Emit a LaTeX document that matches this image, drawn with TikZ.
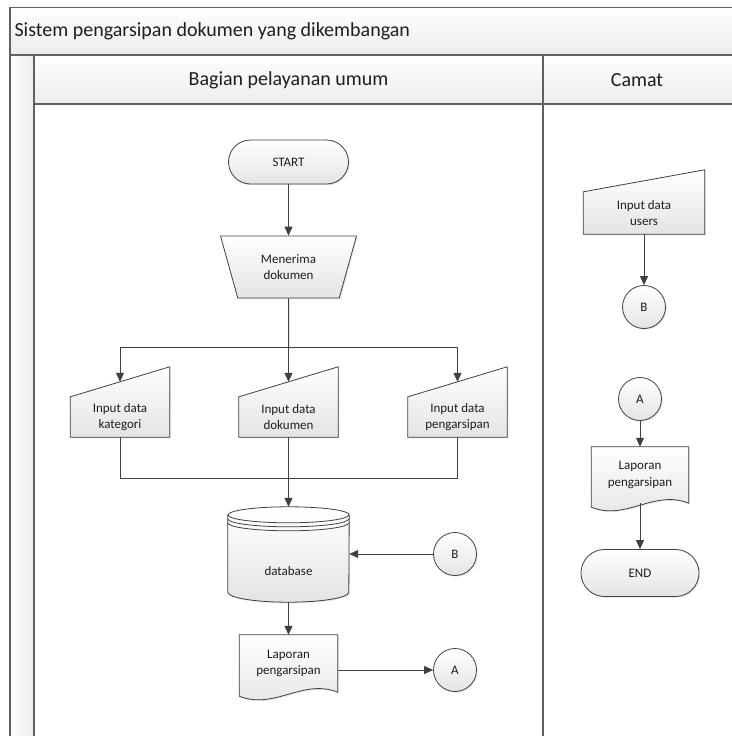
\documentclass[tikz,border=0pt]{standalone}
\usepackage{fontspec}
\setmainfont{Carlito}
\usetikzlibrary{arrows.meta,positioning,calc,shapes.geometric,shadows,backgrounds}
\definecolor{lineGray}{RGB}{64,64,64}
\definecolor{frameGray}{RGB}{96,96,96}
\definecolor{paneGray}{RGB}{236,236,236}
\definecolor{fillLow}{RGB}{228,228,228}
\definecolor{txtGray}{RGB}{30,30,30}

\begin{document}
\begin{tikzpicture}[x=1pt, y=-1pt, text=txtGray,
    font=\fontsize{13}{16.5}\selectfont,
    flow/.style={draw=lineGray, line width=1pt, -{Triangle[length=9pt,width=8pt]}},
    link/.style={draw=lineGray, line width=1pt},
    frameline/.style={draw=frameGray, line width=1.6pt},
    shaded/.style={top color=white, bottom color=fillLow, draw=lineGray, line width=0.8pt,
      drop shadow={opacity=.2, shadow xshift=1.2pt, shadow yshift=-1.2pt}},
    lanetext/.style={font=\fontsize{20}{24}\selectfont},
    term/.style={shaded, rectangle, rounded corners=22pt, minimum width=120pt, minimum height=44pt},
    conn/.style={shaded, circle, minimum size=43pt, inner sep=0pt},
    manop/.style={shaded, trapezium, shape border rotate=180, trapezium stretches=true,
      trapezium angle=72, minimum width=136pt, minimum height=62pt, align=center},
    inbox/.style={minimum width=99pt, minimum height=40pt, inner sep=0pt, align=center},
    docbox/.style={minimum width=98pt, minimum height=57pt, inner sep=0pt, align=center},
  ]
  \useasboundingbox (0,0) rectangle (731,736);
  \clip (0,0) rectangle (731,736);
  % pool: title bar, left strip, lane headers
  \begin{scope}[on background layer]
    \path[frameline, top color=white, bottom color=paneGray] (10,7.5) rectangle (745,55);
    \path[frameline, left color=white, right color=paneGray] (10,55) rectangle (34,750);
    \path[frameline, top color=white, bottom color=paneGray] (34,55) rectangle (745,104);
    \draw[frameline] (34,104) rectangle (745,750);
    \draw[frameline] (543,55) -- (543,750);
  \end{scope}
  \node[lanetext, anchor=west] (pool) at (11,31) {Sistem pengarsipan dokumen yang dikembangan};
  \node[lanetext] (laneumum) at (288.5,80) {Bagian pelayanan umum};
  \node[lanetext] (lanecamat) at (637,80) {Camat};

  % Bagian pelayanan umum
  \node[term] (start) at (288.5,162) {START};
  \node[manop] (terima) at (288.5,267) {Menerima\\dokumen};
  \node[inbox] (ikat) at (120,417) {Input data\\kategori};
  \node[inbox] (idok) at (288.5,417) {Input data\\dokumen};
  \node[inbox] (iarsip) at (457.5,417) {Input data\\pengarsipan};
  \node[minimum width=121pt, minimum height=95pt, inner sep=0pt,
    label={[yshift=-17pt]center:database}] (db) at (288.5,554.5) {};
  \node[conn] (cb1) at (455,554) {B};
  \node[docbox] (lapkiri) at (288.5,663.5) {Laporan\\pengarsipan};
  \node[conn] (ca1) at (455,670) {A};

  % Camat
  \node[inbox, minimum width=121pt, minimum height=42pt] (users) at (644,213) {Input data\\users};
  \node[conn] (cb2) at (644,307) {B};
  \node[conn] (ca2) at (640,399) {A};
  \node[docbox, minimum width=97pt, minimum height=56pt] (lapkanan) at (640,475) {Laporan\\pengarsipan};
  \node[term, minimum width=118pt, minimum height=47pt, rounded corners=23.5pt] (end) at (640,573) {END};

  % outlines of manual inputs, documents and the database
  \begin{scope}[on background layer]
    \path[shaded] (ikat.south west) -- (ikat.south east) -- ($(ikat.north east)+(0,-30)$) -- (ikat.north west) -- cycle;
    \path[shaded] (idok.south west) -- (idok.south east) -- ($(idok.north east)+(0,-30)$) -- (idok.north west) -- cycle;
    \path[shaded] (iarsip.south west) -- (iarsip.south east) -- ($(iarsip.north east)+(0,-30)$) -- (iarsip.north west) -- cycle;
    \path[shaded] (users.south west) -- (users.south east) -- ($(users.north east)+(0,-22)$) -- (users.north west) -- cycle;
    \path[shaded] (lapkiri.north west) -- (lapkiri.north east) -- (lapkiri.south east)
      .. controls +(-35,-14) and +(35,14) .. ($(lapkiri.south west)+(0,4)$) -- cycle;
    \path[shaded] (lapkanan.north west) -- (lapkanan.north east) -- (lapkanan.south east)
      .. controls +(-35,-14) and +(35,14) .. ($(lapkanan.south west)+(0,4)$) -- cycle;
    \path[shaded] ($(db.north west)+(0,8)$) -- ($(db.south west)+(0,-10)$)
      arc[start angle=180, end angle=360, x radius=60.5pt, y radius=10pt]
      -- ($(db.north east)+(0,8)$)
      arc[start angle=0, end angle=180, x radius=60.5pt, y radius=8pt] -- cycle;
    \foreach \dy in {8,12,16}
      \draw[lineGray, line width=0.8pt] ($(db.north west)+(0,\dy)$)
        arc[start angle=180, end angle=360, x radius=60.5pt, y radius=8pt];
  \end{scope}

  % connectors
  \coordinate (split) at (288.5,347);
  \coordinate (merge) at (288.5,478);
  \coordinate (ikat-in) at ($(ikat.north)+(0,-15)$);
  \coordinate (idok-in) at ($(idok.north)+(0,-15)$);
  \coordinate (iarsip-in) at ($(iarsip.north)+(0,-15)$);
  \draw[flow] (start) -- (terima);
  \draw[link] (terima.south) -- (split);
  \draw[flow] (split) -| (ikat-in);
  \draw[flow] (split) -- (idok-in);
  \draw[flow] (split) -| (iarsip-in);
  \draw[link] (ikat.south) |- (merge);
  \draw[link] (iarsip.south) |- (merge);
  \draw[flow] (idok.south) -- (db.north);
  \draw[flow] (cb1.west) -- (cb1.west -| db.east);
  \draw[flow] (db.south) -- (lapkiri.north);
  \draw[flow] (lapkiri.east |- ca1.west) -- (ca1.west);
  \draw[flow] (users.south) -- (cb2);
  \draw[flow] (ca2) -- (lapkanan.north);
  \draw[flow] (lapkanan.south) -- (end);
\end{tikzpicture}
\end{document}
